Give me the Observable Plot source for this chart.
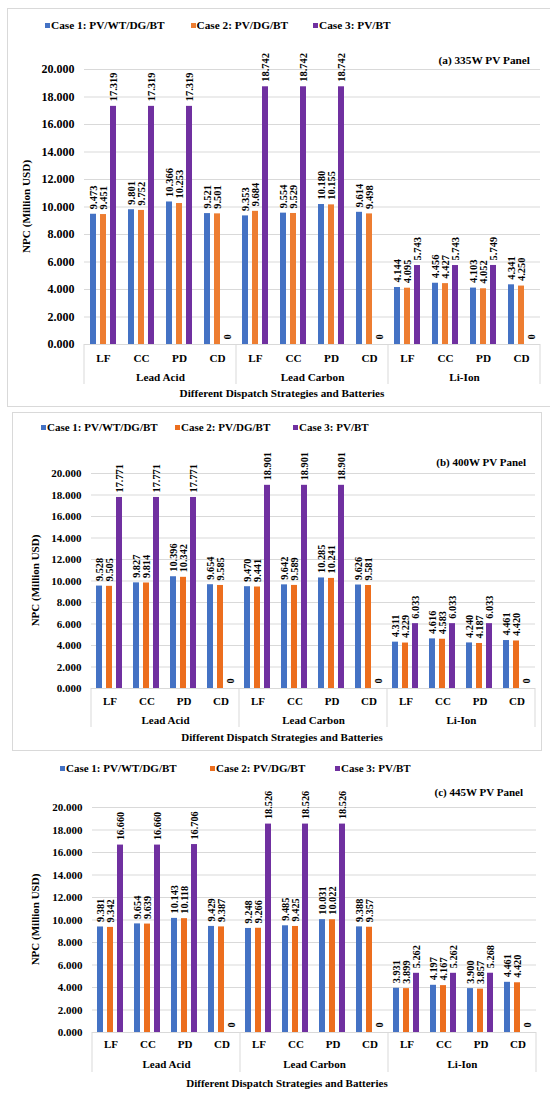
<!DOCTYPE html>
<html><head><meta charset="utf-8">
<script src="https://cdn.jsdelivr.net/npm/d3@7"></script>
<script src="https://cdn.jsdelivr.net/npm/@observablehq/plot@0.6"></script>
<style>
html,body{margin:0;padding:0;background:#fff;overflow:hidden;}
#root{position:relative;width:550px;height:1095px;overflow:hidden;font-family:"Liberation Serif","Times New Roman",serif;font-weight:bold;color:#000;}
.box{position:absolute;border:1px solid #d9d9d9;box-sizing:border-box;}
.sq{position:absolute;width:5px;height:5px;}
.lt{position:absolute;white-space:nowrap;line-height:14px;}
.ttl{position:absolute;white-space:nowrap;line-height:14px;text-align:right;}
svg{position:absolute;left:0;overflow:visible;}
</style></head><body><div id="root"></div>
<script>
// ---- data ----
const cases = ["Case 1: PV/WT/DG/BT", "Case 2: PV/DG/BT", "Case 3: PV/BT"];
const batteries = ["Lead Acid", "Lead Carbon", "Li-Ion"];
const strategies = ["LF", "CC", "PD", "CD"];
const yTicks = [0, 2, 4, 6, 8, 10, 12, 14, 16, 18, 20];
const panelTitles = ["(a) 335W PV Panel", "(b) 400W PV Panel", "(c) 445W PV Panel"];
const xAxisTitle = "Different Dispatch Strategies and Batteries";
const yAxisTitle = "NPC (Million USD)";

const a_case1 = [9.473, 9.801, 10.366, 9.521, 9.353, 9.554, 10.180, 9.614, 4.144, 4.456, 4.103, 4.341];
const a_case2 = [9.451, 9.752, 10.253, 9.501, 9.684, 9.529, 10.155, 9.498, 4.095, 4.427, 4.052, 4.250];
const a_case3 = [17.319, 17.319, 17.319, 0, 18.742, 18.742, 18.742, 0, 5.743, 5.743, 5.749, 0];

const b_case1 = [9.528, 9.827, 10.396, 9.654, 9.470, 9.642, 10.285, 9.626, 4.311, 4.616, 4.240, 4.461];
const b_case2 = [9.505, 9.814, 10.342, 9.585, 9.441, 9.589, 10.241, 9.581, 4.229, 4.583, 4.187, 4.420];
const b_case3 = [17.771, 17.771, 17.771, 0, 18.901, 18.901, 18.901, 0, 6.033, 6.033, 6.033, 0];

const c_case1 = [9.381, 9.654, 10.143, 9.429, 9.248, 9.485, 10.031, 9.388, 3.931, 4.197, 3.900, 4.461];
const c_case2 = [9.342, 9.639, 10.118, 9.387, 9.266, 9.425, 10.022, 9.357, 3.899, 4.167, 3.857, 4.420];
const c_case3 = [16.660, 16.660, 16.706, 0, 18.526, 18.526, 18.526, 0, 5.262, 5.262, 5.268, 0];

// ---- styles / layout ----
const colorsA = ["#4472C4", "#ED7D31", "#7030A0"];
const colorsBC = ["#4472C4", "#EC6E1E", "#7030A0"];
const layouts = [
  {box: {l: 7, t: 8, w: 560, h: 399}, svgTop: 40, svgBottom: 406, left: 80, right: 544, y20: 69, y0: 344,
   tickRight: 70, catY: 358, grpY: 377, xtY: 393, xtX: 282, ytX: 26, divEnd: 384,
   tickFs: 12, fs: 11.2, lfs: 10.5, legY: 25, legX: [45, 190.5, 313], legFs: 11.3, titleRight: 530, titleY: 60, colors: colorsA},
  {box: {l: 12, t: 412, w: 530, h: 339}, svgTop: 440, svgBottom: 750, left: 87, right: 538, y20: 473, y0: 688,
   tickRight: 77, catY: 701, grpY: 720, xtY: 737, xtX: 282, ytX: 35, divEnd: 727,
   tickFs: 11, fs: 11, lfs: 10.3, legY: 427, legX: [41, 175, 293], legFs: 11, titleRight: 526, titleY: 462, colors: colorsBC},
  {box: null, svgTop: 780, svgBottom: 1095, left: 89, right: 538, y20: 807, y0: 1032,
   tickRight: 79, catY: 1044, grpY: 1064, xtY: 1083, xtX: 287, ytX: 35, divEnd: 1072,
   tickFs: 11, fs: 11, lfs: 10.3, legY: 768, legX: [60, 210, 335], legFs: 11, titleRight: 523, titleY: 792, colors: colorsBC}
];
const seriesSets = [[a_case1, a_case2, a_case3], [b_case1, b_case2, b_case3], [c_case1, c_case2, c_case3]];

const root = document.getElementById("root");
const fmt = d3.format(".3f");
const FONT = '"Liberation Serif","Times New Roman",serif';

function renderPanel(series, L, title) {
  if (L.box) {
    const b = document.createElement("div");
    b.className = "box";
    Object.assign(b.style, {left: L.box.l + "px", top: L.box.t + "px", width: L.box.w + "px", height: L.box.h + "px"});
    root.appendChild(b);
  }
  // legend
  cases.forEach((c, j) => {
    const s = document.createElement("div");
    s.className = "sq";
    Object.assign(s.style, {left: L.legX[j] + "px", top: (L.legY - 2.5) + "px", background: L.colors[j]});
    root.appendChild(s);
    const t = document.createElement("div");
    t.className = "lt";
    t.textContent = c;
    Object.assign(t.style, {left: (L.legX[j] + 6) + "px", top: (L.legY - 7) + "px", fontSize: L.legFs + "px"});
    root.appendChild(t);
  });

  const keys = batteries.flatMap(b => strategies.map(s => b + "|" + s));
  const rows = [];
  keys.forEach((k, i) => series.forEach((vals, j) => rows.push({key: k, case: cases[j], value: vals[i]})));

  const height = L.svgBottom - L.svgTop;
  const chart = Plot.plot({
    width: 550, height,
    marginLeft: L.left, marginRight: 550 - L.right,
    marginTop: L.y20 - L.svgTop, marginBottom: L.svgBottom - L.y0,
    style: {fontFamily: FONT, fontWeight: "bold", fontSize: L.tickFs + "px", color: "#000", background: "transparent", overflow: "visible"},
    fx: {domain: keys, padding: 0, axis: null},
    x: {domain: cases, paddingInner: 0.36, paddingOuter: 0.52, axis: null},
    y: {domain: [0, 20], ticks: yTicks, tickFormat: d => fmt(d), tickSize: 0, tickPadding: L.left - L.tickRight, label: null},
    color: {domain: cases, range: L.colors},
    marks: [
      Plot.ruleY(yTicks, {stroke: "#d9d9d9", strokeWidth: 1}),
      Plot.barY(rows, {fx: "key", x: "case", y: "value", fill: "case"}),
      Plot.text(rows, {fx: "key", x: "case", y: "value", text: d => d.value === 0 ? "0" : fmt(d.value),
        rotate: -90, textAnchor: "start", lineAnchor: "middle", dy: -5, fontSize: L.lfs, fill: "#000"}),
      Plot.text(keys, {fx: d => d, text: d => d.split("|")[1], frameAnchor: "bottom", dy: L.catY - L.y0,
        lineAnchor: "middle", fontSize: L.fs, fill: "#000"}),
      Plot.text(batteries, {fx: b => b + "|CC", text: d => d, frameAnchor: "bottom-right", textAnchor: "middle",
        dy: L.grpY - L.y0, lineAnchor: "middle", fontSize: L.fs, fill: "#000"})
    ]
  });
  chart.style.top = L.svgTop + "px";
  root.appendChild(chart);

  // group dividers via the plot's fx scale
  const svg = d3.select(chart);
  let xs;
  try {
    const fxs = chart.scale("fx");
    const bw = fxs.bandwidth != null ? fxs.bandwidth : (fxs.apply(keys[1]) - fxs.apply(keys[0]));
    xs = batteries.map(b => fxs.apply(b + "|LF")).concat([fxs.apply(keys[keys.length - 1]) + bw]);
  } catch (e) {
    const st = (L.right - L.left) / 12;
    xs = [0, 4, 8, 12].map(i => L.left + i * st);
  }
  const y0 = L.y0 - L.svgTop;
  const g = svg.append("g").attr("stroke", "#d9d9d9").attr("stroke-width", 1);
  xs.forEach(x => g.append("line").attr("x1", x).attr("x2", x).attr("y1", y0).attr("y2", L.divEnd - L.svgTop));

  // axis titles
  svg.append("text").attr("x", L.xtX).attr("y", L.xtY - L.svgTop).attr("dy", "0.35em")
    .attr("text-anchor", "middle").attr("font-size", L.fs).attr("fill", "#000").text(xAxisTitle);
  const midY = ((L.y20 + L.y0) / 2) - L.svgTop;
  svg.append("text").attr("transform", `translate(${L.ytX},${midY}) rotate(-90)`).attr("dy", "0.35em")
    .attr("text-anchor", "middle").attr("font-size", L.fs).attr("fill", "#000").text(yAxisTitle);

  // panel title
  const tt = document.createElement("div");
  tt.className = "ttl";
  tt.textContent = title;
  Object.assign(tt.style, {right: (550 - L.titleRight) + "px", top: (L.titleY - 7) + "px", fontSize: L.legFs + "px"});
  root.appendChild(tt);
}

layouts.forEach((L, i) => renderPanel(seriesSets[i], L, panelTitles[i]));
</script></body></html>
